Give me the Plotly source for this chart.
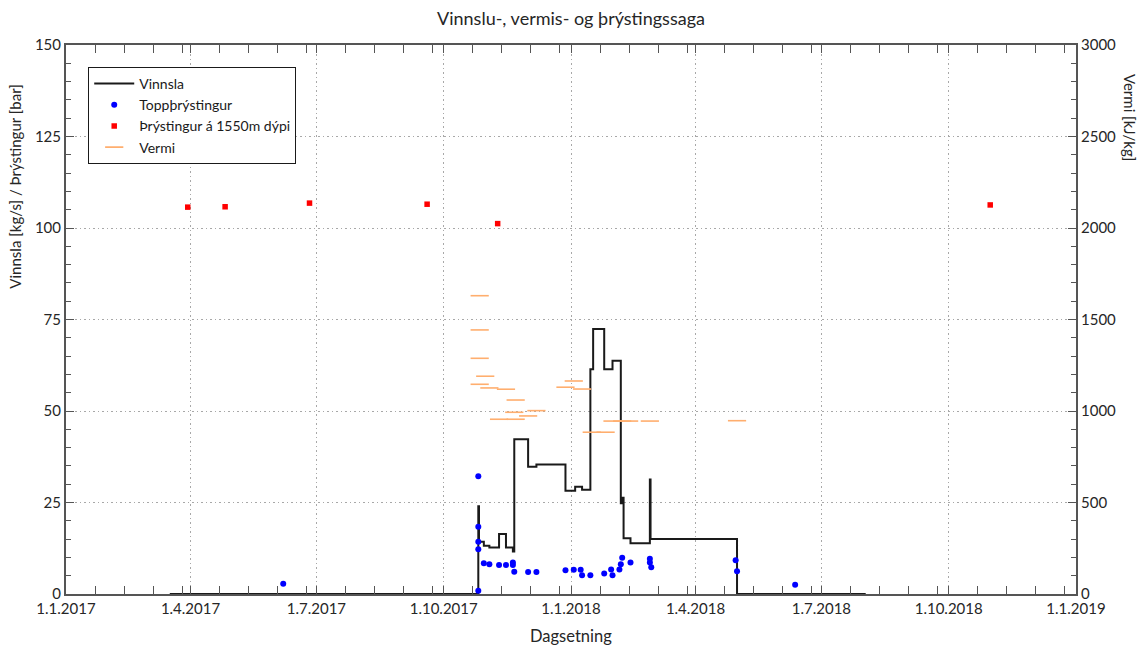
import datetime as dt
import plotly.graph_objects as go

# --- Vinnsla (production, kg/s), step series ---
vinnsla_dates = [
    "2017-03-17", "2017-10-26", "2017-10-26 12:00", "2017-10-30", "2017-11-03",
    "2017-11-10", "2017-11-15", "2017-11-20", "2017-11-21", "2017-12-01",
    "2017-12-07", "2017-12-28", "2018-01-04", "2018-01-09", "2018-01-15",
    "2018-01-17", "2018-01-25", "2018-01-31", "2018-02-06", "2018-02-07",
    "2018-02-08", "2018-02-13", "2018-02-27", "2018-02-27 12:00", "2018-05-01",
    "2018-08-02",
]
vinnsla_values = [
    0, 24.0, 14.3, 13.2, 12.7,
    16.4, 12.7, 11.6, 42.3, 34.8,
    35.4, 28.2, 29.3, 28.5, 61.4,
    72.4, 61.4, 63.7, 24.8, 26.3,
    15.2, 13.9, 31.3, 15.0, 0,
    0,
]

# --- Toppþrýstingur (wellhead pressure, bar) ---
topp_dates = [
    "2017-06-07",
    "2017-10-26", "2017-10-26", "2017-10-26", "2017-10-26", "2017-10-26",
    "2017-10-30", "2017-11-03", "2017-11-10", "2017-11-15", "2017-11-20",
    "2017-11-20", "2017-11-21", "2017-12-01", "2017-12-07", "2017-12-28",
    "2018-01-03", "2018-01-08", "2018-01-09", "2018-01-15", "2018-01-25",
    "2018-01-30", "2018-01-31", "2018-02-05", "2018-02-06", "2018-02-07",
    "2018-02-13", "2018-02-27", "2018-02-27", "2018-02-28", "2018-04-30",
    "2018-05-01", "2018-06-12",
]
topp_values = [
    2.8,
    32.2, 18.4, 14.3, 12.2, 0.9,
    8.4, 8.1, 7.9, 7.9, 8.6,
    7.9, 6.1, 6.0, 6.0, 6.5,
    6.6, 6.6, 5.1, 5.1, 5.6,
    6.7, 5.1, 6.7, 8.1, 9.9,
    8.6, 9.6, 8.6, 7.3, 9.2,
    6.2, 2.5,
]

# --- Þrýstingur á 1550m dýpi (pressure at 1550 m depth, bar) ---
depth_dates = ["2017-03-30", "2017-04-26", "2017-06-26", "2017-09-19", "2017-11-09", "2018-10-31"]
depth_values = [105.7, 105.8, 106.8, 106.5, 101.2, 106.3]

# --- Vermi (enthalpy, kJ/kg) ---
vermi_dates = [
    "2017-10-27", "2017-10-27", "2017-10-27", "2017-10-27", "2017-10-31",
    "2017-11-03", "2017-11-10", "2017-11-15", "2017-11-22", "2017-11-22",
    "2017-11-21", "2017-12-01", "2017-12-07", "2017-12-28", "2018-01-03",
    "2018-01-09", "2018-01-16", "2018-01-26", "2018-01-31", "2018-02-07",
    "2018-02-12", "2018-02-27", "2018-05-01",
]
vermi_values = [
    1630, 1443, 1288, 1146, 1190,
    1126, 955, 1119, 1060, 955,
    993, 973, 1002, 1130, 1164,
    1120, 884, 884, 945, 945,
    945, 945, 947,
]

# Axis tick labels
x_tick_dates = ["2017-01-01", "2017-04-01", "2017-07-01", "2017-10-01",
                "2018-01-01", "2018-04-01", "2018-07-01", "2018-10-01", "2019-01-01"]
x_tick_labels = ["1.1.2017", "1.4.2017", "1.7.2017", "1.10.2017",
                 "1.1.2018", "1.4.2018", "1.7.2018", "1.10.2018", "1.1.2019"]

FONT = "Lato"
AXIS_COLOR = "#555555"
GRID_COLOR = "#a8a8a8"
GRID_DASH = "1.5px,3px"

# minor ticks: four per quarter, three weeks apart
minor_x = []
for q in x_tick_dates[:-1]:
    d0 = dt.date.fromisoformat(q)
    for k in range(1, 5):
        minor_x.append((d0 + dt.timedelta(days=21 * k)).isoformat())

fig = go.Figure()

fig.add_trace(go.Scatter(
    x=vinnsla_dates, y=vinnsla_values, name="Vinnsla",
    mode="lines", line=dict(color="#1a1a1a", width=2, shape="hv"),
))
fig.add_trace(go.Scatter(
    x=topp_dates, y=topp_values, name="Toppþrýstingur",
    mode="markers", marker=dict(color="#0000ff", size=6, symbol="circle"),
))
fig.add_trace(go.Scatter(
    x=depth_dates, y=depth_values, name="Þrýstingur á 1550m dýpi",
    mode="markers", marker=dict(color="#ff0000", size=5.5, symbol="square"),
))
fig.add_trace(go.Scatter(
    x=vermi_dates, y=vermi_values, name="Vermi", yaxis="y2",
    mode="markers",
    marker=dict(symbol="line-ew", size=13, line=dict(color="#ffae6e", width=1.6)),
))

fig.update_layout(
    width=1138, height=647,
    margin=dict(l=66, r=62, t=45, b=53),
    paper_bgcolor="white", plot_bgcolor="white",
    font=dict(family=FONT, size=15, color="#262626"),
    showlegend=True,
    legend=dict(
        x=0.022, y=0.96, xanchor="left", yanchor="top",
        bgcolor="white", bordercolor="#1a1a1a", borderwidth=1,
        font=dict(family=FONT, size=14, color="#1a1a1a"),
        itemwidth=40, tracegroupgap=0,
    ),
    xaxis=dict(
        type="date", range=["2017-01-01", "2019-01-01"],
        tickmode="array", tickvals=x_tick_dates, ticktext=x_tick_labels,
        ticks="inside", ticklen=8, tickwidth=1.2, tickcolor=AXIS_COLOR,
        showline=True, linecolor=AXIS_COLOR, linewidth=2, mirror="allticks",
        showgrid=True, gridcolor=GRID_COLOR, griddash=GRID_DASH, gridwidth=1,
        zeroline=False,
        minor=dict(tickmode="array", tickvals=minor_x, ticks="inside",
                   ticklen=5, tickcolor=AXIS_COLOR, showgrid=False),
        tickfont=dict(size=15),
    ),
    yaxis=dict(
        range=[0, 150], tickvals=[0, 25, 50, 75, 100, 125, 150],
        ticks="inside", ticklen=8, tickwidth=1.2, tickcolor=AXIS_COLOR,
        showline=True, linecolor=AXIS_COLOR, linewidth=2,
        showgrid=True, gridcolor=GRID_COLOR, griddash=GRID_DASH, gridwidth=1,
        zeroline=False,
        minor=dict(dtick=5, ticks="inside", ticklen=5, tickcolor=AXIS_COLOR, showgrid=False),
        tickfont=dict(size=15),
    ),
    yaxis2=dict(
        range=[0, 3000], tickvals=[0, 500, 1000, 1500, 2000, 2500, 3000],
        overlaying="y", side="right",
        ticks="inside", ticklen=8, tickwidth=1.2, tickcolor=AXIS_COLOR,
        showline=True, linecolor=AXIS_COLOR, linewidth=2,
        showgrid=False, zeroline=False,
        minor=dict(dtick=100, ticks="inside", ticklen=5, tickcolor=AXIS_COLOR, showgrid=False),
        tickfont=dict(size=15),
    ),
    annotations=[
        dict(text="Vinnslu-, vermis- og þrýstingssaga", xref="paper", yref="paper",
             x=0.5, y=1, xanchor="center", yanchor="middle", yshift=27,
             showarrow=False, font=dict(size=18)),
        dict(text="Dagsetning", xref="paper", yref="paper", x=0.5, y=0,
             xanchor="center", yanchor="middle", yshift=-42,
             showarrow=False, font=dict(size=16.5)),
        dict(text="Vinnsla [kg/s] / Þrýstingur [bar]", xref="paper", yref="paper",
             x=0, xshift=-51, y=0.742, xanchor="center", yanchor="middle",
             textangle=-90, showarrow=False, font=dict(size=15)),
        dict(text="Vermi [kJ/kg]", xref="paper", yref="paper",
             x=1, xshift=54, y=0.869, xanchor="center", yanchor="middle",
             textangle=90, showarrow=False, font=dict(size=15)),
    ],
)

fig.write_html("out.html")
